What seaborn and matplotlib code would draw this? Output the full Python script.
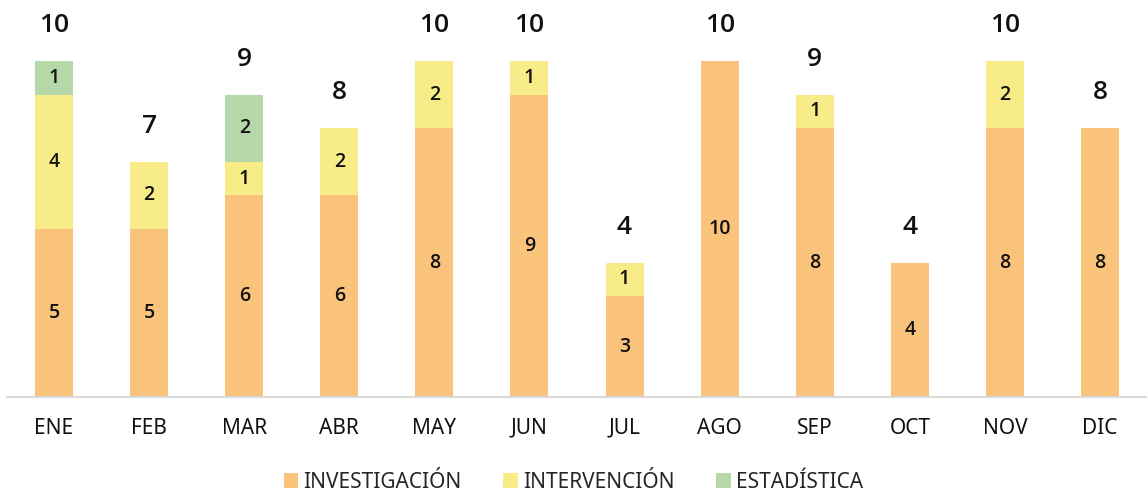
import matplotlib
matplotlib.use("Agg")
import matplotlib.pyplot as plt
import seaborn as sns
import numpy as np
import pandas as pd
from matplotlib.patches import Patch

months = ["ENE", "FEB", "MAR", "ABR", "MAY", "JUN", "JUL", "AGO", "SEP", "OCT", "NOV", "DIC"]
investigacion = [5, 5, 6, 6, 8, 9, 3, 10, 8, 4, 8, 8]
intervencion = [4, 2, 1, 2, 2, 1, 1, 0, 1, 0, 2, 0]
estadistica = [1, 0, 2, 0, 0, 0, 0, 0, 0, 0, 0, 0]
series_names = ["INVESTIGACIÓN", "INTERVENCIÓN", "ESTADÍSTICA"]
colors = ["#F9C37B", "#F7EC87", "#B6D7A8"]

sns.set_theme(style="white")
plt.rcParams["font.family"] = ["Noto Sans", "DejaVu Sans"]

inv = np.array(investigacion)
itv = np.array(intervencion)
est = np.array(estadistica)
tot = inv + itv + est

df = pd.DataFrame({"mes": months, "inv": inv, "inv_itv": inv + itv, "tot": tot})

fig = plt.figure(figsize=(11.47, 4.92), dpi=100)
ax = fig.add_axes([6.5 / 1147, 95 / 492, 1141 / 1147, 387 / 492])

w = 0.4
sns.barplot(data=df, x="mes", y="tot", color=colors[2], saturation=1, width=w, ax=ax, linewidth=0)
sns.barplot(data=df, x="mes", y="inv_itv", color=colors[1], saturation=1, width=w, ax=ax, linewidth=0)
sns.barplot(data=df, x="mes", y="inv", color=colors[0], saturation=1, width=w, ax=ax, linewidth=0)

for i in range(len(months)):
    bottoms = [0, inv[i], inv[i] + itv[i]]
    vals = [inv[i], itv[i], est[i]]
    for b, v in zip(bottoms, vals):
        if v > 0:
            ax.text(i, b + v / 2, str(v), ha="center", va="center", fontsize=14,
                    fontweight="semibold", family=["Open Sans", "DejaVu Sans"], color="#111111")
    ax.text(i, tot[i] + 1.05, str(tot[i]), ha="center", va="center", fontsize=19,
            fontweight="semibold", family=["Open Sans", "DejaVu Sans"], color="#111111")

ax.set_xlim(-0.5, len(months) - 0.5)
ax.set_ylim(0, 11.52)
ax.set_xlabel("")
ax.set_ylabel("")
ax.set_yticks([])
for s in ["top", "right", "left"]:
    ax.spines[s].set_visible(False)
ax.spines["bottom"].set_color("#D9D9D9")
ax.spines["bottom"].set_linewidth(1.5)
ax.tick_params(axis="x", length=0, labelsize=15, labelcolor="#111111", pad=15)

handles = [Patch(facecolor=c, edgecolor="none") for c in colors]
fig.legend(handles, series_names, loc="center", bbox_to_anchor=(0.5, 10 / 492), ncol=3,
           frameon=False, fontsize=15, handlelength=0.7, handleheight=0.7,
           handletextpad=0.25, columnspacing=2.0)

fig.savefig("out.png", dpi=100)
